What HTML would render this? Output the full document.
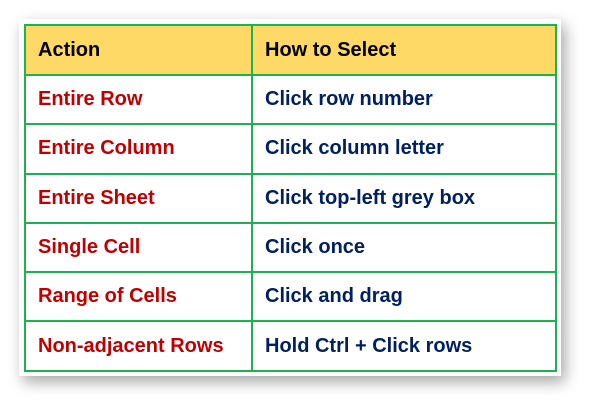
<!DOCTYPE html>
<html><head><style>
body{margin:0;width:600px;height:414px;background:#fff;position:relative;overflow:hidden;font-family:"Liberation Sans",sans-serif}
.card{position:absolute;left:19px;top:19px;width:542px;height:357px;background:#fff;box-shadow:4px 6px 14px rgba(0,0,0,0.35)}
table{position:absolute;left:24px;top:24px;border-collapse:collapse;width:533px}
td{border:2px solid #1fb050;height:47.3px;padding:0 0 0 12px;font-weight:bold;font-size:20px}
tr.h td{background:#ffd966;color:#000;height:48px}
td.a{width:213px;color:#c00000}
td.b{color:#002060}
tr.h td.a,tr.h td.b{color:#000}
</style></head><body>
<div class="card"></div>
<table>
<tr class="h"><td class="a">Action</td><td class="b">How to Select</td></tr>
<tr><td class="a">Entire Row</td><td class="b">Click row number</td></tr>
<tr><td class="a">Entire Column</td><td class="b">Click column letter</td></tr>
<tr><td class="a">Entire Sheet</td><td class="b">Click top-left grey box</td></tr>
<tr><td class="a">Single Cell</td><td class="b">Click once</td></tr>
<tr><td class="a">Range of Cells</td><td class="b">Click and drag</td></tr>
<tr><td class="a">Non-adjacent Rows</td><td class="b">Hold Ctrl + Click rows</td></tr>
</table>
</body></html>
